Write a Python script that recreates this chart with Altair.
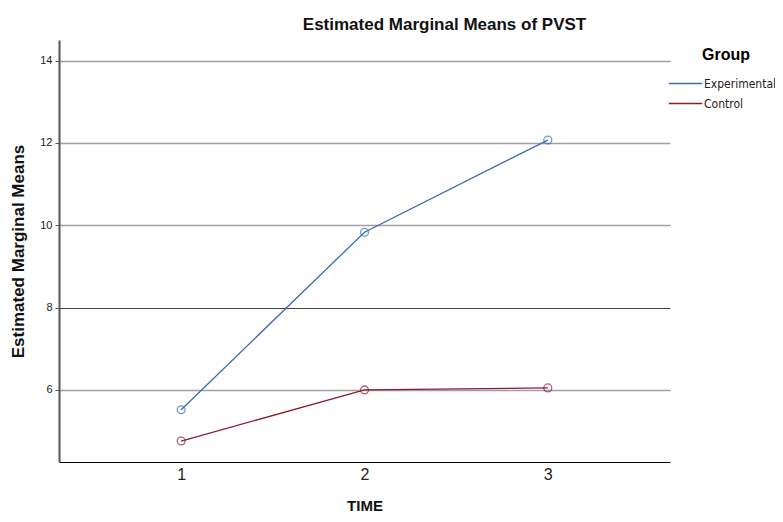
import altair as alt
import pandas as pd

time = [1, 2, 3]
experimental = [5.52, 9.83, 12.07]
control = [4.76, 6.00, 6.05]
groups = ["Experimental", "Control"]
colors = ["#3c6cb0", "#8a1c2e"]

df = pd.DataFrame({
    "TIME": time * 2,
    "value": experimental + control,
    "Group": [groups[0]] * 3 + [groups[1]] * 3,
})

FONT = "Liberation Sans"

x = alt.X("TIME:Q",
          scale=alt.Scale(domain=[1/3, 11/3], nice=False, zero=False),
          axis=alt.Axis(title="TIME", values=time, format="d", grid=False, ticks=False,
                        labelFontSize=16, labelColor="#222", labelPadding=4,
                        titleFontSize=15, titleFontWeight="bold", titlePadding=16,
                        domainColor="black", domainWidth=1.2))
y = alt.Y("value:Q",
          scale=alt.Scale(domain=[4.25, 14.5], nice=False, zero=False),
          axis=alt.Axis(title="Estimated Marginal Means", values=[6, 8, 10, 12, 14],
                        grid=True,
                        gridColor=alt.condition("datum.value == 8", alt.value("#444444"), alt.value("#a0a0a0")),
                        gridWidth=alt.condition("datum.value == 8", alt.value(1), alt.value(1.4)),
                        ticks=True, tickSize=4, tickColor="#555",
                        labelFontSize=11, labelColor="#222", labelPadding=3,
                        titleFontSize=17, titleFontWeight="bold", titlePadding=12,
                        domainColor="#555", domainWidth=2))
color = alt.Color("Group:N", scale=alt.Scale(domain=groups, range=colors),
                  legend=alt.Legend(title="Group", orient="none", legendX=617, legendY=7,
                                    symbolType="M-2,0H2", symbolStrokeWidth=1.3, symbolSize=280,
                                    titleFontSize=16, titleFontWeight="bold", titleAnchor="middle",
                                    titlePadding=11, labelFontSize=12, labelFont="DejaVu Sans Condensed",
                                    labelOffset=9, rowPadding=4, labelColor="#222"))

base = alt.Chart(df)
lines = base.mark_line(strokeWidth=1.3).encode(x=x, y=y, color=color)
pts = base.mark_point(shape="circle", size=62, filled=False, strokeWidth=1.3).encode(
    x=x, y=y, color=alt.Color("Group:N", scale=alt.Scale(domain=groups, range=colors), legend=None))

chart = (lines + pts).properties(
    width=611, height=422,
    title=alt.Title("Estimated Marginal Means of PVST", fontSize=17, fontWeight="bold",
                    font=FONT, anchor="middle", offset=6, dx=80, color="#111"),
    autosize=alt.AutoSizeParams(type="none"),
    padding={"left": 51, "top": 32, "right": 105, "bottom": 52},
).configure(font=FONT).configure_view(stroke=None).configure_axis(
    labelFont=FONT, titleFont=FONT, titleColor="#111"
).configure_legend(titleFont=FONT)

chart.save("out.html", embed_options={"renderer": "svg", "actions": False})
